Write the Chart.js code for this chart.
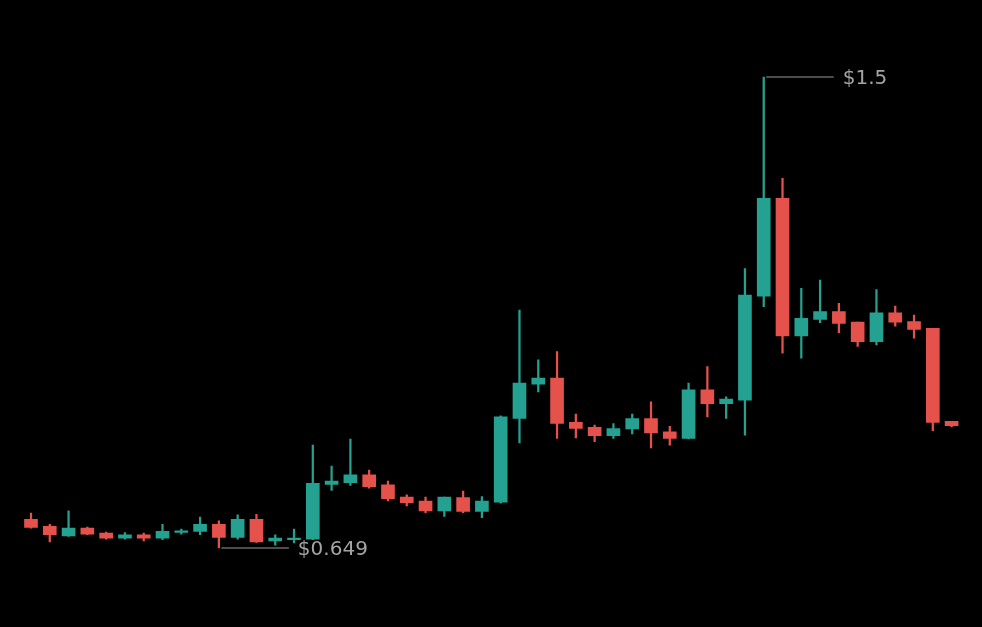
<!DOCTYPE html>
<html>
<head>
<meta charset="utf-8">
<script src="https://cdn.jsdelivr.net/npm/chart.js@4.4.1/dist/chart.umd.min.js"></script>
<style>
  html, body { margin: 0; padding: 0; background: #000; }
  #wrap { width: 982px; height: 627px; position: relative; background: #000; }
</style>
</head>
<body>
<div id="wrap"><canvas id="c"></canvas></div>
<script>
const categories = ['1','2','3','4','5','6','7','8','9','10','11','12','13','14','15','16','17','18','19','20',
  '21','22','23','24','25','26','27','28','29','30','31','32','33','34','35','36','37','38','39','40',
  '41','42','43','44','45','46','47','48','49','50'];
const openVals  = [0.701,0.688,0.671,0.685,0.676,0.667,0.673,0.667,0.677,0.679,
                   0.692,0.668,0.701,0.662,0.664,0.665,0.764,0.767,0.781,0.763,
                   0.741,0.734,0.716,0.740,0.715,0.732,0.883,0.945,0.956,0.876,
                   0.867,0.852,0.864,0.883,0.859,0.847,0.935,0.910,0.916,1.104,
                   1.281,1.032,1.062,1.076,1.057,1.022,1.074,1.058,1.046,0.878];
const highVals  = [0.712,0.692,0.716,0.687,0.678,0.677,0.676,0.692,0.683,0.705,
                   0.698,0.709,0.710,0.673,0.683,0.835,0.797,0.846,0.790,0.770,
                   0.745,0.741,0.741,0.752,0.742,0.888,1.079,0.989,1.004,0.891,
                   0.871,0.874,0.891,0.913,0.869,0.947,0.977,0.922,1.154,1.5,
                   1.317,1.118,1.133,1.091,1.057,1.116,1.086,1.070,1.046,0.878];
const lowVals   = [0.685,0.660,0.670,0.673,0.665,0.665,0.662,0.664,0.674,0.673,
                   0.649,0.665,0.659,0.654,0.658,0.664,0.753,0.762,0.757,0.734,
                   0.725,0.713,0.706,0.713,0.704,0.730,0.839,0.931,0.847,0.848,
                   0.841,0.847,0.855,0.830,0.835,0.846,0.886,0.883,0.853,1.085,
                   1.001,0.992,1.056,1.038,1.013,1.016,1.050,1.028,0.861,0.868];
const closeVals = [0.686,0.673,0.685,0.674,0.667,0.673,0.667,0.679,0.680,0.692,
                   0.668,0.701,0.660,0.667,0.667,0.766,0.770,0.781,0.760,0.738,
                   0.731,0.716,0.741,0.715,0.734,0.886,0.947,0.956,0.874,0.865,
                   0.852,0.865,0.883,0.857,0.847,0.935,0.910,0.918,1.106,1.281,
                   1.032,1.064,1.076,1.055,1.022,1.074,1.057,1.044,0.876,0.870];

const UP = '#25a191';
const DOWN = '#e5524b';
const colors = openVals.map((o, i) => closeVals[i] >= o ? UP : DOWN);

const extremaPlugin = {
  id: 'extrema',
  afterDatasetsDraw(chart) {
    const ctx = chart.ctx;
    const xs = chart.scales.x, ys = chart.scales.y;
    const maxV = Math.max(...highVals);
    const minV = Math.min(...lowVals);
    const iMax = highVals.indexOf(maxV);
    const iMin = lowVals.indexOf(minV);
    const marks = [[iMax, maxV], [iMin, minV]];
    ctx.save();
    ctx.strokeStyle = '#9a9a9a';
    ctx.fillStyle = '#a4a4a4';
    ctx.lineWidth = 1.2;
    ctx.font = '20px "DejaVu Sans"';
    ctx.textBaseline = 'middle';
    ctx.textAlign = 'left';
    for (const [i, v] of marks) {
      const x = xs.getPixelForValue(i);
      const y = ys.getPixelForValue(v);
      ctx.beginPath();
      ctx.moveTo(x + 2.5, y);
      ctx.lineTo(x + 70, y);
      ctx.stroke();
      ctx.fillText('$' + String(v), x + 79, y + 1.5);
    }
    ctx.restore();
  }
};

new Chart(document.getElementById('c'), {
  type: 'bar',
  data: {
    labels: categories,
    datasets: [
      {
        label: 'body',
        data: openVals.map((o, i) => [o, closeVals[i]]),
        backgroundColor: colors,
        borderWidth: 0,
        barThickness: 13,
        grouped: false,
        order: 1
      },
      {
        label: 'wick',
        data: lowVals.map((l, i) => [l, highVals[i]]),
        backgroundColor: colors,
        borderWidth: 0,
        barThickness: 1.6,
        grouped: false,
        order: 2
      }
    ]
  },
  options: {
    responsive: true,
    maintainAspectRatio: false,
    animation: false,
    layout: { padding: { left: 21.6, right: 21, top: 0, bottom: 0 } },
    plugins: { legend: { display: false }, tooltip: { enabled: false } },
    scales: {
      x: { type: 'category', display: false, offset: true, grid: { display: false } },
      y: { display: false, min: 0.5063, max: 1.6391, grid: { display: false } }
    }
  },
  plugins: [extremaPlugin]
});
</script>
</body>
</html>
